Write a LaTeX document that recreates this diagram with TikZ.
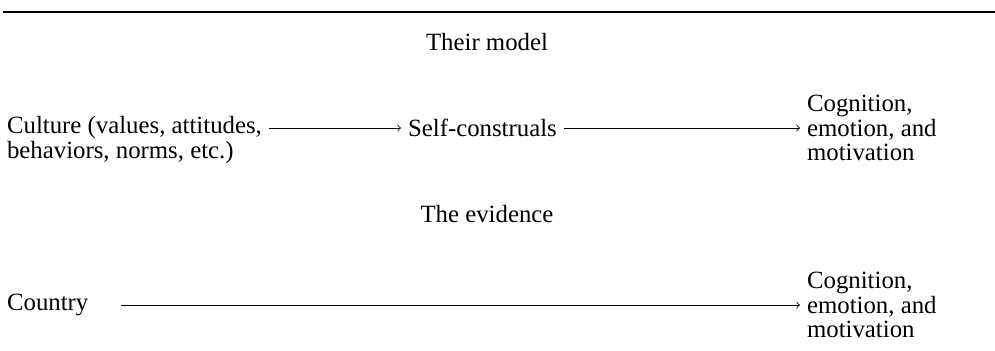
\documentclass[tikz,border=0pt]{standalone}
\usepackage{fontspec}
\setmainfont{Liberation Serif}
\usepackage{tikz}

\begin{document}
\begin{tikzpicture}[x=0.5pt, y=-0.5pt, font=\fontsize{12.4}{12.3}\selectfont]
    \useasboundingbox (0,0) rectangle (995,350);
    % Rule
    \draw[line width=0.8pt] (3,12) -- (995,12);
    \node (head1) at (487,42) {Their model};
    
    % Model row
    \node[anchor=west, align=left] (culture) at (0,140) {Culture (values, attitudes,\\behaviors, norms, etc.)};
    \node[anchor=west] (selfc) at (401,128) {Self-construals};
    \node[anchor=west, align=left] (cog1) at (800,128) {Cognition,\\emotion, and\\motivation};
    
    % Arrows
    \draw[->] (culture.east |- selfc.west) -- (selfc.west);
    \draw[->] (selfc.east) -- (cog1.west);
    
    % Evidence row
    \node (head2) at (487,214) {The evidence};
    \node[anchor=west] (country) at (0,305) {Country};
    \node[anchor=west, align=left] (cog2) at (800,305) {Cognition,\\emotion, and\\motivation};
    \draw[->, shorten <=13pt] (country.east) -- (cog2.west);
\end{tikzpicture}
\end{document}
